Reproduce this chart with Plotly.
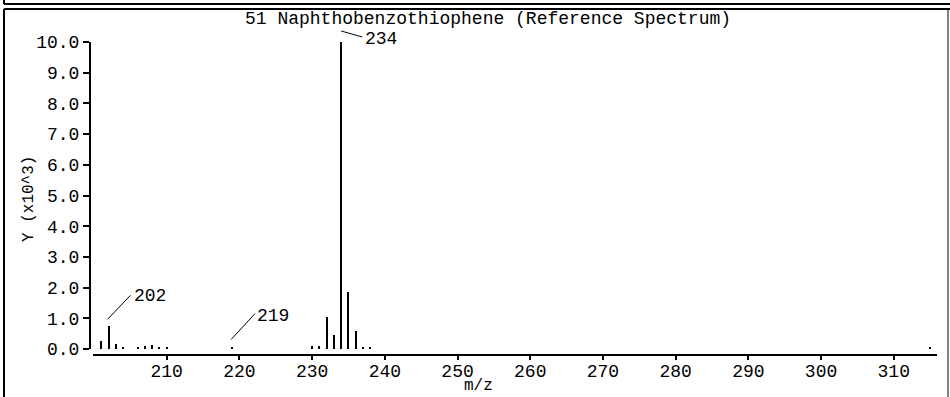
import plotly.graph_objects as go

# ---------------- data ----------------
title_text = "51 Naphthobenzothiophene (Reference Spectrum)"
mz = [201, 202, 203, 204, 206, 207, 208, 209, 210, 219,
      230, 231, 232, 233, 234, 235, 236, 237, 238, 315]
intensity = [0.27, 0.74, 0.16, 0.06, 0.08, 0.10, 0.12, 0.06, 0.06, 0.05,
             0.10, 0.10, 1.03, 0.46, 10.0, 1.86, 0.60, 0.07, 0.06, 0.06]
labeled_mz = [202, 219, 234]
x_ticks = [210, 220, 230, 240, 250, 260, 270, 280, 290, 300, 310]
y_ticks = [0, 1, 2, 3, 4, 5, 6, 7, 8, 9, 10]
y_ticktext = ["0.0", "1.0", "2.0", "3.0", "4.0", "5.0", "6.0", "7.0", "8.0", "9.0", "10.0"]

# ---------------- layout geometry (pixels) ----------------
W, H = 950, 397
L, R, T, B = 90, 937, 42, 355
Y_MAX = 10.0
Y_DOM0 = 6 / (B - T)
FONT = "Liberation Mono, DejaVu Sans Mono, monospace"


def px(x):
    return (x - L) / (R - L)


def py(y):
    return (B - y) / (B - T)


def value_to_paper(v):
    return Y_DOM0 + (v / Y_MAX) * (1 - Y_DOM0)


fig = go.Figure()
fig.add_trace(go.Bar(
    x=mz, y=intensity, width=0.28,
    marker=dict(color="black", line=dict(width=0)),
    hoverinfo="x+y",
))

# leader-line / label offsets (pixels) per labeled peak
label_style = {
    202: dict(line=(-1, 7, 22, 31), shift=(23, 30)),
    219: dict(line=(-1, 8, 23, 34), shift=(23, 31)),
    234: dict(line=(0, 11, 21, 5), shift=(22, 3)),
}
shapes = []
annotations = []
for m in labeled_mz:
    v = intensity[mz.index(m)]
    s = label_style[m]
    x0, y0, x1, y1 = s["line"]
    shapes.append(dict(
        type="line", xref="x", yref="paper",
        xsizemode="pixel", xanchor=m, x0=x0, x1=x1,
        ysizemode="pixel", yanchor=value_to_paper(v), y0=y0, y1=y1,
        line=dict(color="black", width=1),
    ))
    annotations.append(dict(
        x=m, y=v, xref="x", yref="y", text=str(m), showarrow=False,
        xanchor="left", yanchor="middle", xshift=s["shift"][0], yshift=s["shift"][1],
        font=dict(family=FONT, size=18, color="black"),
    ))

# titles
annotations.append(dict(x=px(488), y=py(19), xref="paper", yref="paper", text=title_text,
                        showarrow=False, xanchor="center", yanchor="middle",
                        font=dict(family=FONT, size=18, color="black")))
annotations.append(dict(x=px(29), y=py(199), xref="paper", yref="paper", text="Y (x10^3)",
                        showarrow=False, xanchor="center", yanchor="middle", textangle=-90,
                        font=dict(family=FONT, size=16, color="black")))
annotations.append(dict(x=px(478), y=py(386), xref="paper", yref="paper", text="m/z",
                        showarrow=False, xanchor="center", yanchor="middle",
                        font=dict(family=FONT, size=16, color="black")))
# clipped title of the panel above
annotations.append(dict(x=px(478), y=py(3), xref="paper", yref="paper", text="m/z",
                        showarrow=False, xanchor="center", yanchor="bottom",
                        font=dict(family=FONT, size=18, color="black")))

# frame lines
frame = dict(color="black", width=2)
shapes += [
    dict(type="line", xref="paper", yref="paper", x0=px(4), x1=px(4), y0=py(0), y1=py(4), line=frame),
    dict(type="line", xref="paper", yref="paper", x0=px(4), x1=px(950), y0=py(4), y1=py(4), line=frame),
    dict(type="line", xref="paper", yref="paper", x0=px(4), x1=px(950), y0=py(9), y1=py(9), line=frame),
    dict(type="line", xref="paper", yref="paper", x0=px(4), x1=px(4), y0=py(9), y1=py(397), line=frame),
    dict(type="line", xref="paper", yref="paper", x0=px(948), x1=px(948), y0=py(9), y1=py(397), line=dict(color="black", width=1)),
]

fig.update_layout(
    width=W, height=H,
    margin=dict(l=L, r=W - R, t=T, b=H - B, pad=0),
    paper_bgcolor="white", plot_bgcolor="white",
    showlegend=False, bargap=0,
    font=dict(family=FONT, size=18, color="black"),
    xaxis=dict(
        domain=[3 / (R - L), 1], range=[199.86, 315.95], anchor="free", position=0,
        showline=True, linecolor="black", linewidth=2, showgrid=False, zeroline=False,
        ticks="outside", ticklen=4, tickwidth=2, tickcolor="black",
        tickmode="array", tickvals=x_ticks, ticklabelstandoff=-5,
        tickfont=dict(family=FONT, size=18, color="black"),
    ),
    yaxis=dict(
        domain=[Y_DOM0, 1], range=[0, Y_MAX], anchor="free", position=0,
        showline=True, linecolor="black", linewidth=2, showgrid=False, zeroline=False,
        ticks="outside", ticklen=6, tickwidth=2, tickcolor="black",
        tickmode="array", tickvals=y_ticks, ticktext=y_ticktext,
        tickfont=dict(family=FONT, size=18, color="black"),
    ),
    shapes=shapes,
    annotations=annotations,
)

fig.write_html(
    "out.html",
    config={"displayModeBar": False},
    post_script="document.body.style.margin='0';document.body.style.overflow='hidden';",
)
